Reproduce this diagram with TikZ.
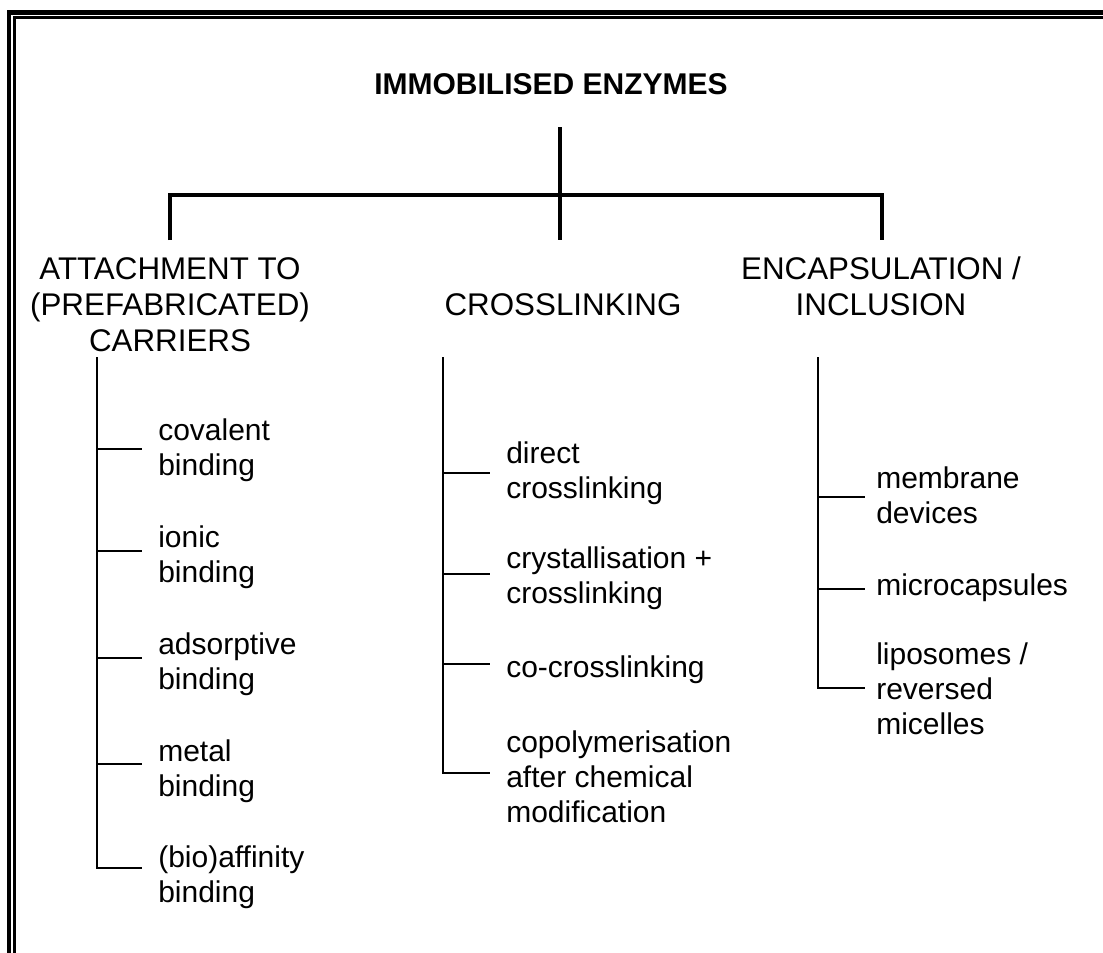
\documentclass[tikz,border=0pt]{standalone}
\usepackage{fontspec}
\setmainfont{Liberation Sans}
\newcommand\lstack[1]{\vtop{\halign{##\strut\hfil\cr#1\crcr}}}
\newcommand\cstack[1]{\vtop{\halign{\hfil##\strut\hfil\cr#1\crcr}}}
\begin{document}
\begin{tikzpicture}[x=0.75pt,y=-0.75pt,
  titletext/.style={inner sep=0pt, anchor=base, font=\fontsize{22.5pt}{27pt}\selectfont\bfseries},
  cattext/.style={inner sep=0pt, anchor=base, font=\fontsize{23.5pt}{27pt}\selectfont},
  leaftext/.style={inner sep=0pt, anchor=base west, font=\fontsize{22.5pt}{26.25pt}\selectfont},
  mainline/.style={line width=3pt},
  subline/.style={line width=2.2pt},
  frameout/.style={line width=3.4pt},
  framein/.style={line width=2.5pt}]
\useasboundingbox[fill=white] (0,0) rectangle (1103,953);
% frame
\draw[frameout] (9,953) -- (9,12.7) -- (1103,12.7);
\draw[framein] (14.3,953) -- (14.3,17.5) -- (1103,17.5);
% title and first level
\node[titletext] (root) at (551,94) {IMMOBILISED ENZYMES};
\coordinate (rootb) at (560,127);
\coordinate (barL) at (170,195);
\coordinate (barR) at (882,195);
\coordinate (dropA) at (170,240);
\coordinate (dropB) at (560,240);
\coordinate (dropC) at (882,240);
\draw[mainline] (rootb) -- (dropB);
\draw[mainline] (dropA) -- (barL) -- (barR) -- (dropC);
\node[cattext] (catA) at (170,279) {\cstack{ATTACHMENT TO\cr (PREFABRICATED)\cr CARRIERS}};
\node[cattext] (catB) at (563,315) {CROSSLINKING};
\node[cattext] (catC) at (881,279) {\cstack{ENCAPSULATION /\cr INCLUSION}};
% left subtree
\coordinate (Lt) at (97,357);
\coordinate (L1) at (142,449);
\coordinate (L2) at (142,551);
\coordinate (L3) at (142,658);
\coordinate (L4) at (142,764);
\coordinate (L5) at (142,868);
\draw[subline] (Lt) |- (L5);
\foreach \n in {L1,L2,L3,L4} \draw[subline] (Lt |- \n) -- (\n);
\node[leaftext] (l1) at (158,440) {\lstack{covalent\cr binding}};
\node[leaftext] (l2) at (158,547) {\lstack{ionic\cr binding}};
\node[leaftext] (l3) at (158,654) {\lstack{adsorptive\cr binding}};
\node[leaftext] (l4) at (158,761) {\lstack{metal\cr binding}};
\node[leaftext] (l5) at (158,867) {\lstack{(bio)affinity\cr binding}};
% middle subtree
\coordinate (Mt) at (443,357);
\coordinate (M1) at (490,473);
\coordinate (M2) at (490,574);
\coordinate (M3) at (490,664);
\coordinate (M4) at (490,773);
\draw[subline] (Mt) |- (M4);
\foreach \n in {M1,M2,M3} \draw[subline] (Mt |- \n) -- (\n);
\node[leaftext] (m1) at (506,463) {\lstack{direct\cr crosslinking}};
\node[leaftext] (m2) at (506,568) {\lstack{crystallisation +\cr crosslinking}};
\node[leaftext] (m3) at (506,677) {co-crosslinking};
\node[leaftext] (m4) at (506,752) {\lstack{copolymerisation\cr after chemical\cr modification}};
% right subtree
\coordinate (Rt) at (818,357);
\coordinate (R1) at (865,497);
\coordinate (R2) at (865,589);
\coordinate (R3) at (865,688);
\draw[subline] (Rt) |- (R3);
\foreach \n in {R1,R2} \draw[subline] (Rt |- \n) -- (\n);
\node[leaftext] (r1) at (876,488) {\lstack{membrane\cr devices}};
\node[leaftext] (r2) at (876,595) {microcapsules};
\node[leaftext] (r3) at (876,664) {\lstack{liposomes /\cr reversed\cr micelles}};
\end{tikzpicture}
\end{document}
